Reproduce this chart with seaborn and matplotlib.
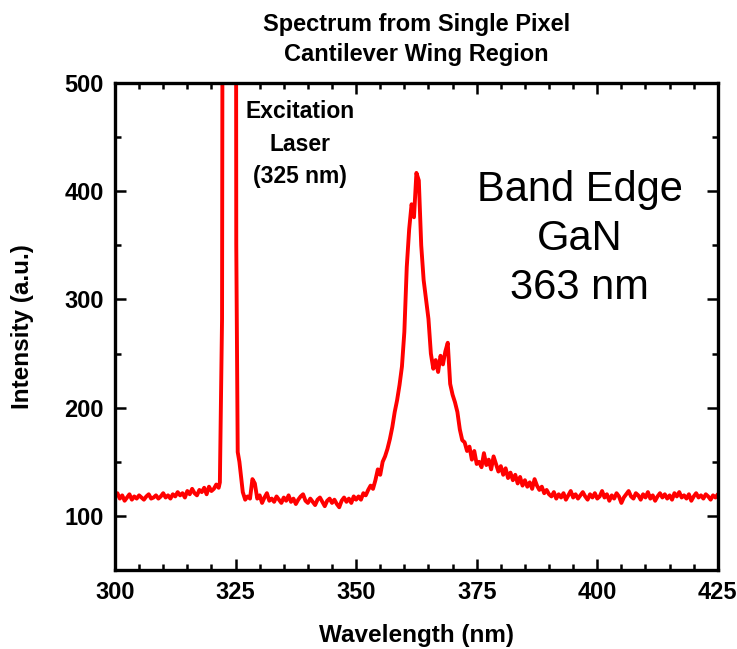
import numpy as np
import pandas as pd
import matplotlib
matplotlib.use("Agg")
import matplotlib.pyplot as plt
import seaborn as sns

# ---- data ----
wl_left = np.arange(300.0, 321.51, 0.5)
int_left = [118, 121, 116, 119, 114, 117, 120, 115, 118, 116,
            119, 117, 115, 118, 120, 116, 117, 119, 116, 118,
            121, 117, 119, 116, 120, 118, 122, 119, 121, 117,
            123, 120, 125, 121, 119, 124, 122, 126, 120, 127,
            123, 125, 129, 126]

wl_laser = [321.75, 322.0, 322.2, 322.5, 323.0, 323.5, 324.0, 324.5, 325.0,
            325.15, 325.45, 325.8]
int_laser = [131, 217, 282, 1200, 1500, 1600, 1500, 1300, 1100,
             351, 159, 150]

wl_mid = np.arange(326.5, 350.01, 0.5)
int_mid = [122, 115, 118, 116, 134, 130, 116, 119, 112, 117,
           121, 114, 116, 113, 118, 115, 112, 117, 114, 119,
           113, 116, 111, 115, 118, 120, 114, 112, 116, 113,
           110, 115, 117, 113, 109, 114, 116, 112, 115, 111,
           108, 114, 117, 113, 116, 112, 118, 115]

wl_peak = np.arange(350.5, 390.01, 0.5)
int_peak = [118, 115, 121, 119, 124, 128, 125, 133, 143, 138,
            150, 155, 162, 171, 182, 196, 207, 221, 238, 270,
            330, 365, 388, 376, 417, 410, 350, 318, 300, 282,
            250, 236, 244, 233, 248, 240, 252, 260, 222, 212,
            205, 196, 180, 170, 168, 160, 164, 152, 160, 148,
            150, 145, 158, 147, 152, 143, 155, 148, 141, 146,
            138, 144, 135, 140, 133, 138, 130, 136, 128, 133,
            127, 131, 125, 134, 128, 124, 127, 121, 124, 120]

wl_right = np.arange(390.5, 425.01, 0.5)
int_right = [118, 122, 116, 120, 117, 121, 115, 119, 123, 117,
             120, 116, 119, 122, 118, 115, 120, 117, 121, 116,
             118, 123, 117, 120, 114, 119, 116, 121, 118, 112,
             117, 120, 123, 118, 116, 121, 119, 115, 120, 117,
             122, 116, 119, 114, 118, 121, 117, 120, 116, 119,
             115, 121, 118, 122, 117, 119, 116, 120, 114, 118,
             121, 117, 119, 116, 120, 118, 115, 119, 117, 120]

x_ticks = [300, 325, 350, 375, 400, 425]
y_ticks = [100, 200, 300, 400, 500]

title_text = "Spectrum from Single Pixel\nCantilever Wing Region"
x_label = "Wavelength (nm)"
y_label = "Intensity (a.u.)"
laser_note = "Excitation\nLaser\n(325 nm)"
gan_note = "Band Edge\nGaN\n363 nm"

df = pd.DataFrame({
    "wavelength": np.concatenate([wl_left, wl_laser, wl_mid, wl_peak, wl_right]),
    "intensity": np.concatenate([int_left, int_laser, int_mid, int_peak, int_right]),
})

sns.set_style("ticks")
plt.rcParams["font.family"] = ["Liberation Sans", "DejaVu Sans"]
for k in ["text.color", "axes.labelcolor", "xtick.color", "ytick.color", "axes.edgecolor"]:
    plt.rcParams[k] = "black"

fig = plt.figure(figsize=(7.37, 6.49), dpi=100)
ax = fig.add_axes([0.156, 0.1217, 0.818, 0.7503])

sns.lineplot(data=df, x="wavelength", y="intensity", ax=ax, color="#ff0000",
             linewidth=2.8, estimator=None, sort=False)

ax.set_xlim(300, 425)
ax.set_ylim(50, 500)
ax.set_xticks(x_ticks)
ax.set_yticks(y_ticks)
ax.set_xticks(np.arange(300, 426, 5), minor=True)
ax.set_yticks(np.arange(50, 501, 50), minor=True)
ax.tick_params(which="both", direction="in", top=True, right=True,
               color="black", width=1.8)
ax.tick_params(which="major", length=8, labelsize=17, pad=8)
ax.tick_params(which="minor", length=4)
for lab in ax.get_xticklabels() + ax.get_yticklabels():
    lab.set_fontweight("bold")
for sp in ax.spines.values():
    sp.set_visible(True)
    sp.set_linewidth(2.4)
    sp.set_color("black")

ax.set_xlabel(x_label, fontsize=17.5, fontweight="bold", labelpad=14)
ax.set_ylabel(y_label, fontsize=17.5, fontweight="bold", labelpad=22)
ax.set_title(title_text, fontsize=17, fontweight="bold", pad=16, linespacing=1.4)

ax.text(0.307, 0.966, laser_note, transform=ax.transAxes, ha="center", va="top",
        fontsize=16.5, fontweight="bold", linespacing=1.55)
ax.text(0.771, 0.822, gan_note, transform=ax.transAxes, ha="center", va="top",
        fontsize=30, linespacing=1.3)

fig.savefig("out.png", dpi=100)
